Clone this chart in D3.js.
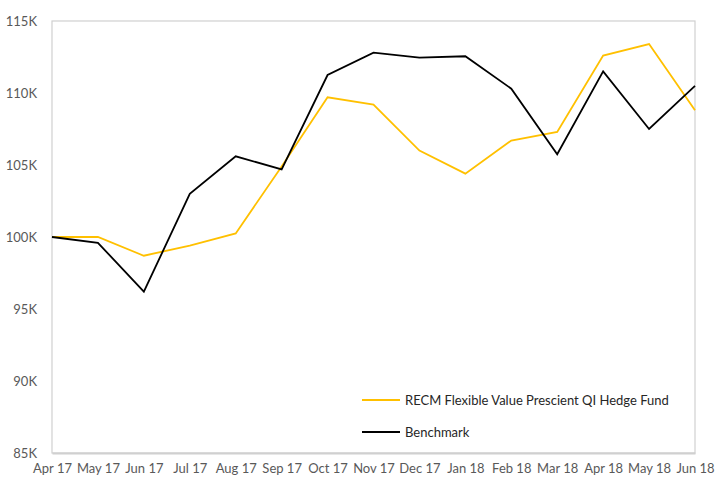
<!DOCTYPE html>
<html>
<head>
<meta charset="utf-8">
<script src="https://cdn.jsdelivr.net/npm/d3@7"></script>
<style>
  body { margin: 0; background: #fff; }
  svg { font-family: Lato, "Open Sans", sans-serif; }
</style>
</head>
<body>
<div id="chart"></div>
<script>
const months = ["Apr 17", "May 17", "Jun 17", "Jul 17", "Aug 17", "Sep 17", "Oct 17",
  "Nov 17", "Dec 17", "Jan 18", "Feb 18", "Mar 18", "Apr 18", "May 18", "Jun 18"];
const fundValues = [100000, 100000, 98700, 99400, 100250, 104900, 109700,
  109200, 106000, 104400, 106700, 107300, 112600, 113400, 108800];
const benchmarkValues = [100000, 99600, 96200, 103000, 105600, 104700, 111250,
  112800, 112450, 112550, 110300, 105750, 111500, 107500, 110500];
const yTicks = [85000, 90000, 95000, 100000, 105000, 110000, 115000];
const seriesNames = ["RECM Flexible Value Prescient QI Hedge Fund", "Benchmark"];

const W = 715, H = 477;
const margin = { top: 21, right: 20, bottom: 24, left: 52 };
const width = W - margin.left - margin.right;
const height = H - margin.top - margin.bottom;

const svg = d3.select("#chart").append("svg")
  .attr("width", W)
  .attr("height", H);
const g = svg.append("g")
  .attr("transform", `translate(${margin.left},${margin.top})`);

const x = d3.scalePoint().domain(months).range([0, width]);
const y = d3.scaleLinear().domain([85000, 115000]).range([height, 0]);

// plot border
g.append("rect")
  .attr("x", 0).attr("y", 0)
  .attr("width", width).attr("height", height)
  .attr("fill", "none")
  .attr("stroke", "#d0d0d0")
  .attr("stroke-width", 1.2);

// Y axis
const yAxis = g.append("g")
  .call(d3.axisLeft(y).tickValues(yTicks).tickSize(0).tickPadding(15)
    .tickFormat(d => `${d / 1000}K`));
yAxis.select(".domain").remove();
yAxis.selectAll("text")
  .attr("font-size", 13)
  .attr("font-family", "Lato, sans-serif")
  .attr("fill", "#595959");

// X axis
const xAxis = g.append("g")
  .attr("transform", `translate(0,${height})`)
  .call(d3.axisBottom(x).tickSize(0).tickPadding(11));
xAxis.select(".domain")
  .attr("stroke", "#d0d0d0")
  .attr("stroke-width", 2);
xAxis.selectAll("text")
  .attr("font-size", 13)
  .attr("font-family", "Lato, sans-serif")
  .attr("fill", "#595959");

// lines
const line = d3.line()
  .x((d, i) => x(months[i]))
  .y(d => y(d));

g.append("path")
  .datum(fundValues)
  .attr("fill", "none")
  .attr("stroke", "#FFC000")
  .attr("stroke-width", 1.8)
  .attr("d", line);

g.append("path")
  .datum(benchmarkValues)
  .attr("fill", "none")
  .attr("stroke", "#000")
  .attr("stroke-width", 1.8)
  .attr("d", line);

// legend
const legend = svg.append("g").attr("transform", "translate(362,400)");
const colors = ["#FFC000", "#000"];
seriesNames.forEach((name, i) => {
  const row = legend.append("g").attr("transform", `translate(0,${i * 32})`);
  row.append("line")
    .attr("x1", 0).attr("x2", 38)
    .attr("y1", 0).attr("y2", 0)
    .attr("stroke", colors[i])
    .attr("stroke-width", 1.8);
  row.append("text")
    .attr("x", 43)
    .attr("dy", "0.35em")
    .attr("font-size", 13)
    .attr("fill", "#262626")
    .text(name);
});
</script>
</body>
</html>
